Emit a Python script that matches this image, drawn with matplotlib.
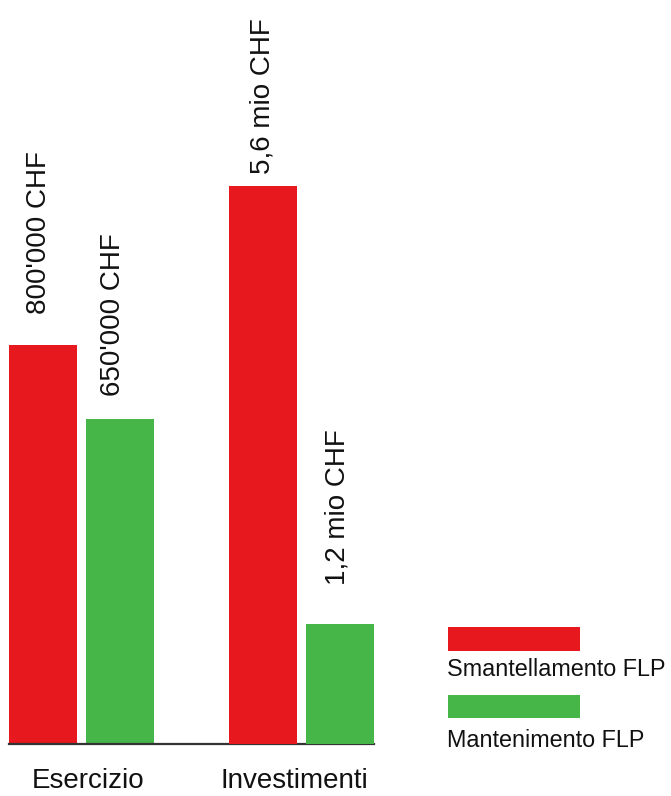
import matplotlib
matplotlib.use("Agg")
import matplotlib.pyplot as plt
from matplotlib.patches import Rectangle

plt.rcParams['font.family'] = ['Liberation Sans', 'DejaVu Sans']

# Data
categories = ["Esercizio", "Investimenti"]
series_names = ["Smantellamento FLP", "Mantenimento FLP"]
esercizio_kchf = [800, 650]          # thousand CHF
investimenti_mio = [5.6, 1.2]        # million CHF
esercizio_labels = ["800'000 CHF", "650'000 CHF"]
investimenti_labels = ["5,6 mio CHF", "1,2 mio CHF"]

RED = "#e8181f"
GREEN = "#46b649"
colors = [RED, GREEN]

W, H = 671, 796
fig = plt.figure(figsize=(W / 100, H / 100), dpi=100)


def fx(px):
    return px / W


def fy(py):
    return (H - py) / H


# Main axes: left group in thousand CHF, right group (twin) in million CHF
ax = fig.add_axes([fx(9), fy(744), fx(374) - fx(9), fy(0) - fy(744)])
ax2 = ax.twinx()

offsets = [-0.175, 0.175]
width = 0.31
label_gap_pts = [22, 17, 8, 28]
label_dx_pts = [-3, -5, 0, -2]

k = 0
for i, (v, lab) in enumerate(zip(esercizio_kchf, esercizio_labels)):
    x = 0 + offsets[i]
    ax.bar(x, v, width=width, color=colors[i], linewidth=0)
    ax.annotate(lab, (x, v), xytext=(label_dx_pts[k], label_gap_pts[k]),
                textcoords="offset points", rotation=90, ha="center",
                va="bottom", fontsize=20, color="#111111")
    k += 1

for i, (v, lab) in enumerate(zip(investimenti_mio, investimenti_labels)):
    x = 1 + offsets[i]
    ax2.bar(x, v, width=width, color=colors[i], linewidth=0)
    ax2.annotate(lab, (x, v), xytext=(label_dx_pts[k], label_gap_pts[k]),
                 textcoords="offset points", rotation=90, ha="center",
                 va="bottom", fontsize=20, color="#111111")
    k += 1

ax.set_xlim(-0.33, 1.33)
ax.set_ylim(0, 1490)
ax2.set_ylim(0, 7.46)

for a in (ax, ax2):
    for s in ("top", "right", "left"):
        a.spines[s].set_visible(False)
    a.set_yticks([])
    a.patch.set_visible(False)
ax2.spines["bottom"].set_visible(False)
ax.spines["bottom"].set_linewidth(1.6)
ax.spines["bottom"].set_color("#333333")

ax.set_xticks([0.03, 0.97])
ax.set_xticklabels(categories, fontsize=20, color="#111111")
ax.tick_params(axis="x", length=0, pad=17)

# Legend: colour swatch above each series name
legend_rows = [(627, 651, 676), (695, 718, 747)]
for (top, bot, base), name, c in zip(legend_rows, series_names, colors):
    fig.patches.append(Rectangle((fx(448), fy(bot)), fx(580) - fx(448),
                                 fy(top) - fy(bot), transform=fig.transFigure,
                                 facecolor=c, edgecolor="none"))
    fig.text(fx(447), fy(base), name, ha="left", va="baseline",
             fontsize=16.8, color="#111111")

fig.savefig("out.png", dpi=100, facecolor="white")
